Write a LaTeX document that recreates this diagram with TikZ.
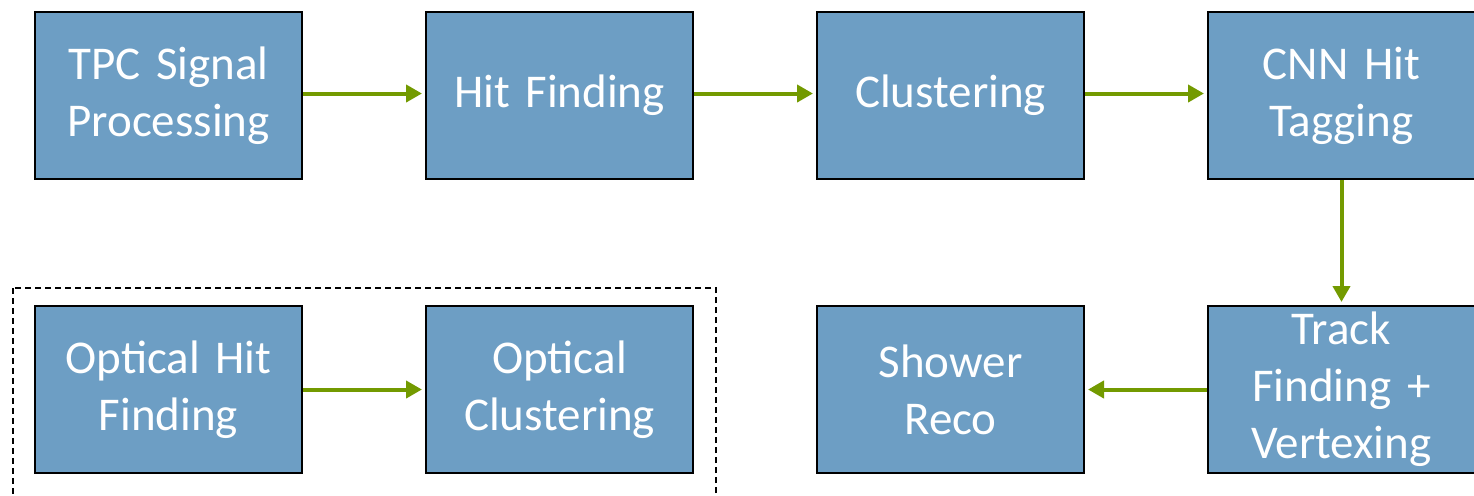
\documentclass[tikz,border=0pt]{standalone}
\usepackage{fontspec}
\setmainfont{Carlito}
\usepackage{tikz}
\usetikzlibrary{positioning,arrows.meta}
\definecolor{StepBlue}{HTML}{6D9EC4}
\definecolor{StepGreen}{HTML}{739A00}

\begin{document}
\begin{tikzpicture}[>={Triangle[length=8pt,width=8.5pt]},node distance=62.5pt and 61pt]
  \useasboundingbox (0,0) rectangle (737pt,-247.5pt);
  \tikzstyle{stage}=[draw=black,line width=1pt,fill=StepBlue,
    minimum width=133.5pt,minimum height=83.5pt,text width=128pt,
    align=center,text=white,inner sep=0pt,
    font=\fontsize{23.5}{28.5}\selectfont]
  \tikzstyle{flow}=[->,line width=2pt,color=StepGreen,shorten >=1.5pt]
  \node[stage] (s1) at (84.25pt,-47.75pt) {TPC Signal\\Processing};
  \node[stage,right=of s1] (s2) {Hit Finding};
  \node[stage,right=of s2] (s3) {Clustering};
  \node[stage,right=of s3] (s4) {CNN Hit\\Tagging};
  \node[stage,below=of s4] (s5) {Track\\Finding +\\Vertexing};
  \node[stage,left=of s5] (s6) {Shower\\Reco};
  \node[stage,below=of s1] (o1) {Optical Hit\\Finding};
  \node[stage,right=of o1] (o2) {Optical\\Clustering};
  \draw[flow] ([yshift=1pt]s1.east)--([yshift=1pt]s2.west);
  \draw[flow] ([yshift=1pt]s2.east)--([yshift=1pt]s3.west);
  \draw[flow] ([yshift=1pt]s3.east)--([yshift=1pt]s4.west);
  \draw[flow] (s4.south)--(s5.north);
  \draw[flow] (s5.west)--(s6.east);
  \draw[flow] (o1.east)--(o2.west);
  \draw[dashed,line width=0.9pt,dash pattern=on 3pt off 2pt]
    ([xshift=-10.5pt,yshift=8.5pt]o1.north west) rectangle
    ([xshift=11pt,yshift=-15pt]o2.south east);
\end{tikzpicture}
\end{document}
